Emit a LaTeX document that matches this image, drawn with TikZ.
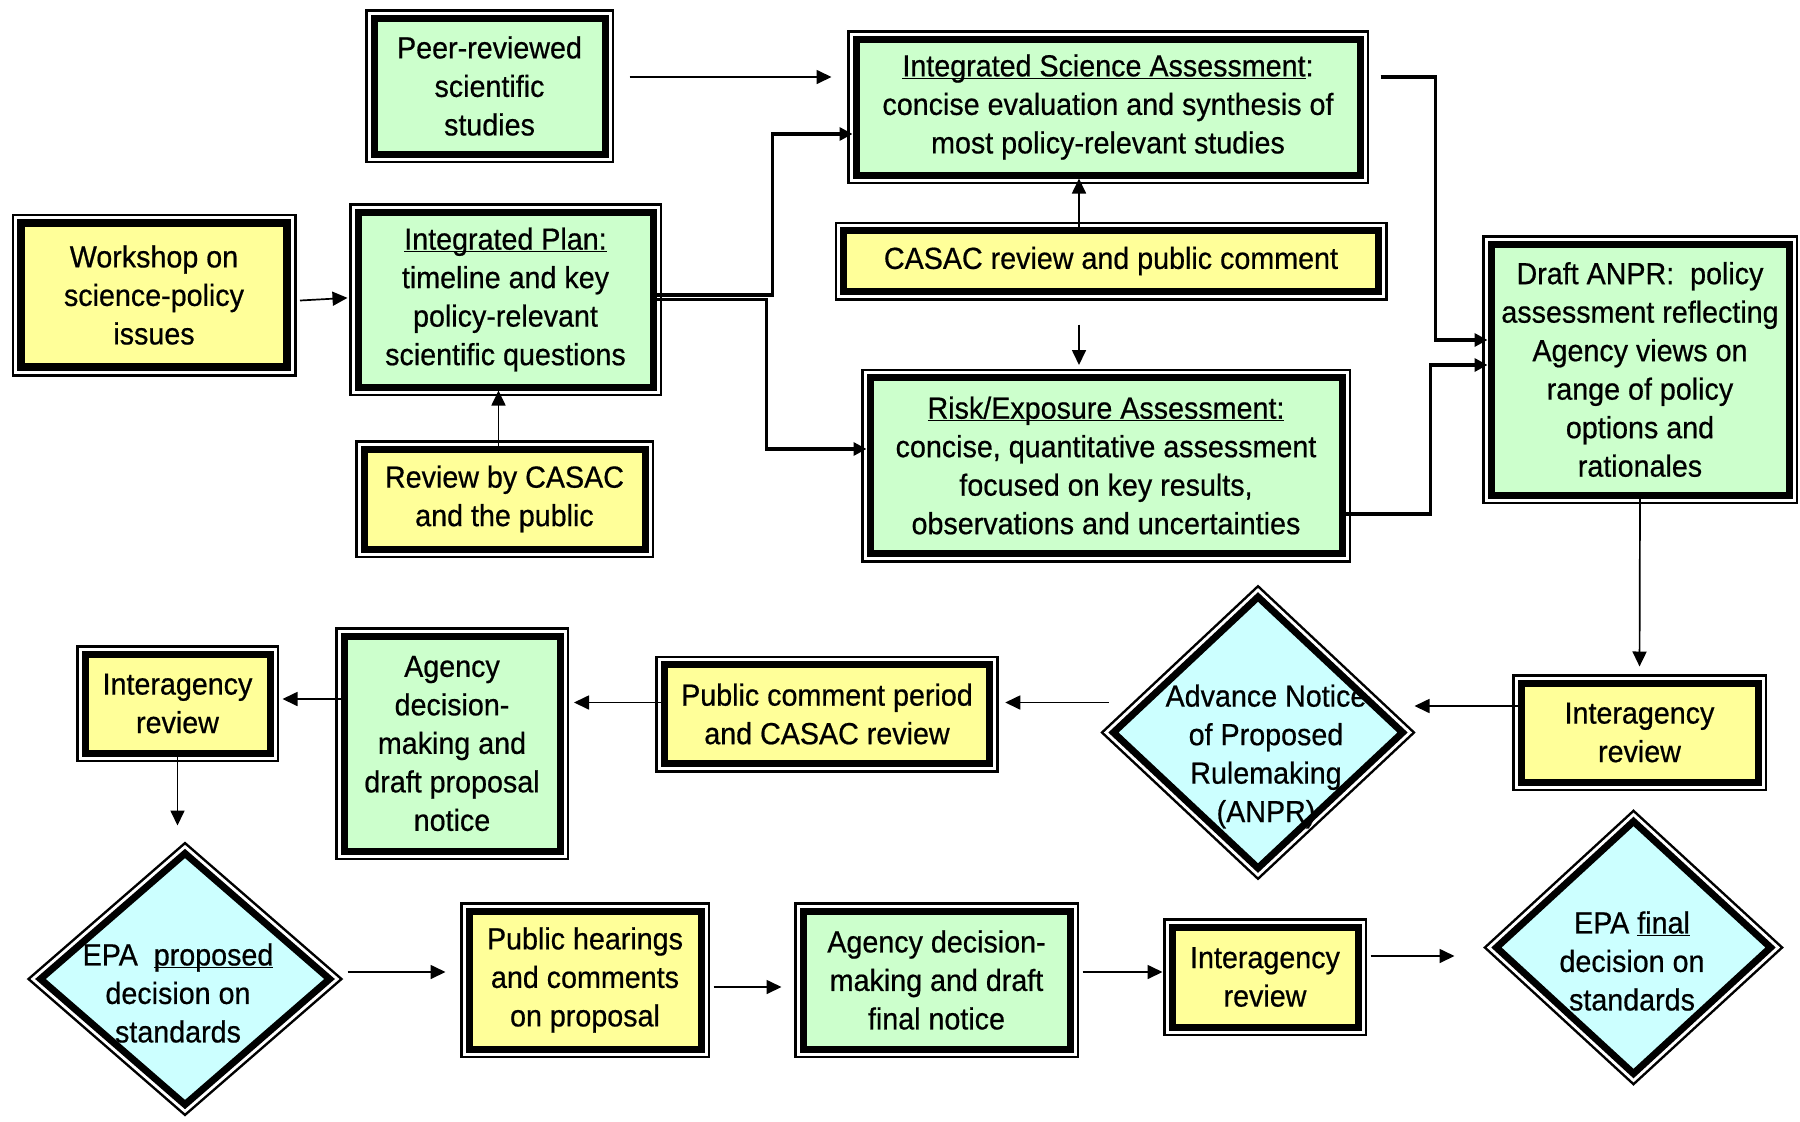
\documentclass[tikz,border=0pt]{standalone}
\usepackage{fontspec}
\setmainfont{Liberation Sans}[FakeStretch=0.94, FakeBold=0.6]
\usepackage{xcolor}
\usepackage{tikz}
\usetikzlibrary{shapes.geometric,arrows.meta}

\definecolor{mint}{HTML}{CCFFCC}
\definecolor{lemon}{HTML}{FFFF99}
\definecolor{ice}{HTML}{CCFFFF}

\begin{document}
\begin{tikzpicture}[x=1pt, y=-1pt,
        frame/.style={draw, line width=7pt, align=center, inner sep=0pt,
            font=\fontsize{30.5}{38.5}\selectfont,
            preaction={draw, line width=18pt},
            preaction={draw, white, line width=13pt}},
        greenbox/.style={frame, rectangle, fill=mint},
        yellowbox/.style={frame, rectangle, fill=lemon},
        bluedia/.style={frame, diamond, fill=ice},
        txt/.style={align=center, inner sep=0pt, font=\fontsize{30.5}{38.5}\selectfont},
        arr/.style={line width=1.7pt, -{Triangle[length=15pt,width=14pt]}},
        thickarr/.style={line width=3.5pt, -{Triangle[length=13pt,width=13pt]}}]
        \useasboundingbox (0,0) rectangle (1800,1122);

        \node[greenbox, minimum width=231, minimum height=136] (peer) at (489.5,86) {Peer-reviewed\\scientific\\studies};
        \node[yellowbox, minimum width=267, minimum height=145] (work) at (154,295) {Workshop on\\science-policy\\issues};
        \node[greenbox, minimum width=295, minimum height=175] (plan) at (505.5,299.5) {\underbar{Integrated Plan:}\\timeline and key\\policy-relevant\\scientific questions};
        \node[yellowbox, minimum width=281, minimum height=100] (revw) at (504.5,499) {Review by CASAC\\and the public};
        \node[greenbox, minimum width=504, minimum height=136] (isa) at (1108,107) {\underbar{Integrated Science Assessment}:\\concise evaluation and synthesis of\\most policy-relevant studies};
        \node[yellowbox, minimum width=535, minimum height=61] (casac) at (1111,261) {CASAC review and public comment};
        \node[greenbox, minimum width=472, minimum height=176] (rea) at (1106,465.5) {\underbar{Risk/Exposure Assessment:}\\concise, quantitative assessment\\focused on key results,\\observations and uncertainties};
        \node[greenbox, minimum width=298, minimum height=251] (anpr) at (1640,369.5) {Draft ANPR:\ \ policy\\assessment reflecting\\Agency views on\\range of policy\\options and\\rationales};

        \node[yellowbox, minimum width=237, minimum height=99] (ir1) at (1639.5,732.5) {Interagency\\review};
        \node[bluedia, minimum width=292, minimum height=274] (adv) at (1258,732.5) {};
        \node[txt] (advtext) at (1266,756.5) {Advance Notice\\of Proposed\\Rulemaking\\(ANPR)};
        \node[yellowbox, minimum width=325.5, minimum height=99] (pub) at (827,714) {Public comment period\\and CASAC review};
        \node[greenbox, minimum width=216, minimum height=215] (agd) at (452,743.5) {Agency\\decision-\\making and\\draft proposal\\notice};
        \node[yellowbox, minimum width=185, minimum height=99] (ir2) at (177.5,703.5) {Interagency\\review};

        \node[bluedia, minimum width=292, minimum height=254] (epap) at (185,979) {};
        \node[txt] (epaptext) at (178,993) {EPA\ \ \underbar{proposed}\\decision on\\standards};
        \node[yellowbox, minimum width=232, minimum height=138] (hear) at (585,980) {Public hearings\\and comments\\on proposal};
        \node[greenbox, minimum width=267, minimum height=138] (agf) at (936.5,980) {Agency decision-\\making and draft\\final notice};
        \node[yellowbox, minimum width=186, minimum height=100] (ir3) at (1265,977) {Interagency\\review};
        \node[bluedia, minimum width=277, minimum height=255] (epaf) at (1633.5,947.5) {};
        \node[txt] (epaftext) at (1632,961) {EPA \underbar{final}\\decision on\\standards};

        \draw[line width=1.5pt] ([shift={(7.5pt,-7.5pt)}]work.north west) rectangle ([shift={(-7.5pt,7.5pt)}]work.south east);

        \draw[arr, shorten <=21pt, shorten >=21pt] ([yshift=9pt]peer.east) -- ([yshift=9pt]peer.east -| isa.west);
        \draw[arr, shorten <=9pt, shorten >=7pt] ([yshift=-6pt]work.east) -- ([yshift=2pt]plan.west);
        \draw[arr] ([xshift=-6pt]revw.north) -- ([xshift=-6pt]revw.north |- plan.south);
        \draw[thickarr] ([yshift=4.5pt]plan.east) -- ++(116,0) |- ([yshift=-27pt]isa.west);
        \draw[thickarr] (plan.east) -- ++(110,0) |- ([yshift=16.5pt]rea.west);
        \draw[arr] ([xshift=-32pt]casac.north) -- ([xshift=-32pt]casac.north |- isa.south);
        \draw[arr, shorten <=29.5pt, shorten >=9pt] ([xshift=-32pt]casac.south) -- ([xshift=-32pt]casac.south |- rea.north);
        \draw[thickarr, shorten <=17pt] ([yshift=30pt]isa.east) -- ++(72,0) |- ([yshift=29.5pt]anpr.west);
        \draw[thickarr] ([yshift=-48.5pt]rea.east) -- ++(85,0) |- ([yshift=4.5pt]anpr.west);

        \draw[arr, shorten >=13pt] (anpr.south) -- (ir1.north);
        \draw[arr, shorten >=7pt] ([yshift=26.5pt]ir1.west) -- ([yshift=26.5pt]ir1.west -| adv.east);
        \draw[arr, shorten >=12pt] ([yshift=30pt]adv.west) -- ([yshift=30pt]adv.west -| pub.east);
        \draw[arr, shorten >=10.5pt] ([yshift=11.5pt]pub.west) -- ([yshift=11.5pt]pub.west -| agd.east);
        \draw[arr, shorten >=9pt] ([yshift=44.5pt]agd.west) -- ([yshift=44.5pt]agd.west -| ir2.east);
        \draw[arr, shorten >=23pt] (ir2.south) -- (ir2.south |- epap.north);

        \draw[arr, shorten <=13pt, shorten >=20pt] ([yshift=7pt]epap.east) -- ([yshift=7pt]epap.east -| hear.west);
        \draw[arr, shorten <=9pt, shorten >=18pt] ([yshift=-7pt]hear.east) -- ([yshift=-7pt]hear.east -| agf.west);
        \draw[arr, shorten <=9pt, shorten >=6pt] ([yshift=8pt]agf.east) -- ([yshift=8pt]agf.east -| ir3.west);
        \draw[arr, shorten <=9pt, shorten >=37pt] ([yshift=21pt]ir3.east) -- ([yshift=21pt]ir3.east -| epaf.west);
\end{tikzpicture}
\end{document}
